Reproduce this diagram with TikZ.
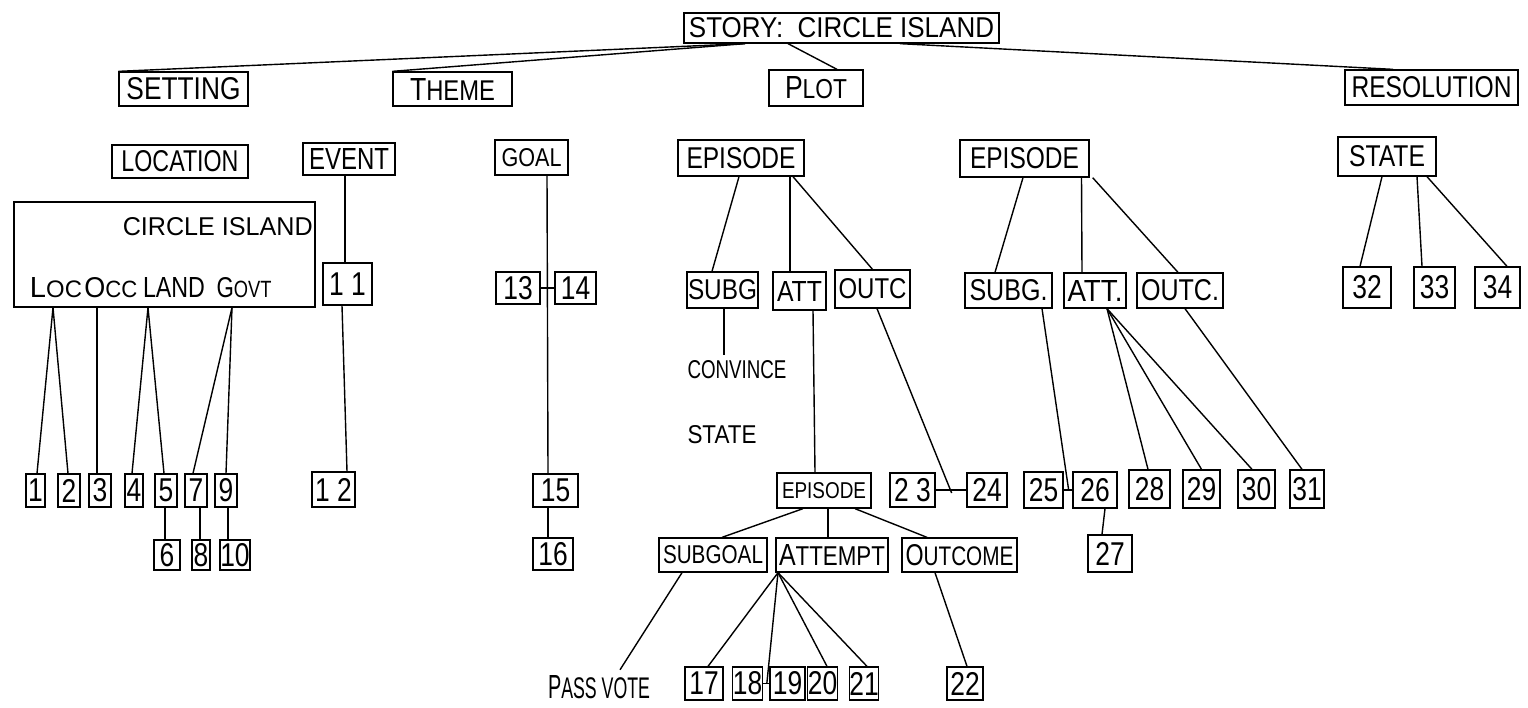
\documentclass[tikz,border=0pt]{standalone}
\usepackage{fontspec}
\setmainfont{Liberation Sans}
\usepackage{graphicx}
\newcommand\fs[1]{\fontsize{#1}{#1}\selectfont}
\newcommand\T[3]{\resizebox{#1pt}{#2pt}{#3}}
\newcommand\nm[1]{\scalebox{0.8}[1]{\fs{33}#1}}
\newcommand\B[7][]{\node[box,#1,minimum width={(#5-#3)*1pt},minimum height={(#6-#4)*1pt}] (#2) at ({(#3+#5)/2},{(#4+#6)/2}) {#7};}
\tikzset{
  box/.style={draw,line width=1.3pt,inner sep=0pt,font={\fs{24}}},
  ln/.style={line width=1.4pt},
  lbl/.style={inner sep=0pt,font={\fs{24}}}
}
\begin{document}
\begin{tikzpicture}[x=1pt,y=-1pt]
\fill[white] (0,0) rectangle (1528,707);
\useasboundingbox (0,0) rectangle (1528,707);

% top levels
\B{story}{684}{13}{999}{43}{\T{305}{20}{STORY:\ \ CIRCLE ISLAND}}
\B{setting}{119}{72}{248}{106}{\T{114}{22}{SETTING}}
\B{theme}{393}{72}{512}{106}{\T{85}{22}{{\fs{28}T}{\fs{25}HEME}}}
\B{plot}{769}{70}{863}{106}{\T{62}{22}{{\fs{28}P}{\fs{24}LOT}}}
\B{resolution}{1345}{70}{1518}{105}{\T{160}{21}{RESOLUTION}}

% second row
\B{location}{112}{145}{248}{178}{\T{117}{21}{LOCATION}}
\B{event}{303}{143}{395}{175}{\T{80}{21}{EVENT}}
\B{goal}{495}{140}{568}{175}{\T{60}{18}{GOAL}}
\B{ep1}{678}{140}{804}{176}{\T{109}{21}{EPISODE}}
\B{ep2}{960}{140}{1089}{177}{\T{109}{21}{EPISODE}}
\B{state}{1338}{137}{1436}{176}{\T{76}{21}{STATE}}

% circle island block
\B{island}{14}{202}{315}{307}{}
\node[lbl,anchor=base east] (islandname) at (313,235) {\T{190}{18}{CIRCLE ISLAND}};
\node[lbl,anchor=base] (loc) at (56,297) {\T{52}{20}{{\fs{28}L}{\fs{23}OC}}};
\node[lbl,anchor=base] (occ) at (111,297) {\T{53}{20}{{\fs{28}O}{\fs{23}CC}}};
\node[lbl,anchor=base] (land) at (174,297) {\T{62}{20}{LAND}};
\node[lbl,anchor=base] (govt) at (244,297) {\T{55}{20}{{\fs{28}G}{\fs{23}OVT}}};

\B{n1}{26}{474}{45}{507}{\nm{1}}
\B{n2}{58}{474}{80}{507}{\nm{2}}
\B{n3}{89}{474}{111}{507}{\nm{3}}
\B{n4}{125}{474}{143}{507}{\nm{4}}
\B{n5}{155}{474}{177}{507}{\nm{5}}
\B{n7}{185}{474}{207}{507}{\nm{7}}
\B{n9}{215}{474}{237}{507}{\nm{9}}
\B{n6}{154}{540}{180}{570}{\nm{6}}
\B{n8}{192}{540}{210}{570}{\nm{8}}
\B{n10}{220}{540}{250}{570}{\nm{10}}

\B{n11}{323}{263}{372}{305}{\nm{1 1}}
\B{n12}{312}{472}{355}{507}{\nm{1 2}}

\B{n13}{496}{272}{540}{304}{\nm{13}}
\B{n14}{555}{272}{596}{304}{\nm{14}}
\B{n15}{533}{474}{578}{507}{\nm{15}}
\B{n16}{533}{538}{573}{570}{\nm{16}}

% episode 1
\B{subg}{687}{272}{758}{308}{\T{69}{20}{SUBG}}
\B{att}{773}{272}{826}{310}{\T{45}{20}{ATT}}
\B{outc}{835}{270}{910}{308}{\T{68}{20}{OUTC}}
\node[lbl,anchor=base] (convince) at (737,378) {\T{99}{18}{CONVINCE}};
\node[lbl,anchor=base] (statelbl) at (722,443) {\T{69}{18}{STATE}};
\B{epsm}{777}{473}{871}{508}{\T{84}{16}{EPISODE}}
\B{n23}{890}{473}{935}{507}{\nm{2 3}}
\B{n24}{967}{473}{1007}{507}{\nm{24}}
\B{subgoal}{659}{538}{767}{572}{\T{100}{18}{SUBGOAL}}
\B{attempt}{776}{538}{888}{572}{\T{106}{21}{{\fs{28}A}{\fs{25}TTEMPT}}}
\B{outcome}{902}{538}{1017}{572}{\T{108}{21}{{\fs{28}O}{\fs{25}UTCOME}}}
\node[lbl,anchor=base] (passvote) at (599,698) {\T{102}{23}{{\fs{28}P}{\fs{25}ASS VOTE}}};
\B{n17}{685}{667}{723}{700}{\nm{17}}
\B{n18}{733}{667}{762}{700}{\nm{18}}
\B{n19}{770}{667}{805}{700}{\nm{19}}
\B{n20}{808}{667}{837}{700}{\nm{20}}
\B{n21}{850}{667}{878}{700}{\nm{21}}
\B{n22}{947}{667}{983}{700}{\nm{22}}

% episode 2
\B{subg2}{965}{273}{1052}{308}{\T{78}{21}{SUBG.}}
\B{att2}{1064}{273}{1126}{308}{\T{55}{21}{ATT.}}
\B{outc2}{1137}{273}{1223}{308}{\T{78}{21}{OUTC.}}
\B{n25}{1024}{472}{1063}{508}{\nm{25}}
\B{n26}{1073}{472}{1117}{508}{\nm{26}}
\B{n27}{1088}{535}{1132}{572}{\nm{27}}
\B{n28}{1129}{470}{1170}{508}{\nm{28}}
\B{n29}{1183}{470}{1220}{508}{\nm{29}}
\B{n30}{1238}{470}{1275}{508}{\nm{30}}
\B{n31}{1290}{470}{1324}{508}{\nm{31}}

% resolution
\B{n32}{1343}{267}{1391}{308}{\nm{32}}
\B{n33}{1414}{267}{1455}{308}{\nm{33}}
\B{n34}{1475}{267}{1520}{308}{\nm{34}}

% connectors
\draw[ln] ([xshift=-96.5pt]story.south) -- (setting.north west);
\draw[ln] ([xshift=-96.5pt]story.south) -- (theme.north west);
\draw[ln] ([xshift=-53.5pt]story.south) -- ([xshift=21pt]plot.north);
\draw[ln] ([xshift=58.5pt]story.south) -- ([xshift=-38.5pt]resolution.north);

\draw[ln] ([xshift=-4pt]event.south) -- ([xshift=-2.5pt]n11.north);
\draw[ln] ([xshift=-5.5pt]n11.south) -- ([xshift=13.5pt]n12.north);

\draw[ln] ([xshift=-111.5pt]island.south) -- ([xshift=1.5pt]n1.north);
\draw[ln] ([xshift=-111.5pt]island.south) -- ([xshift=-1pt]n2.north);
\draw[ln] ([xshift=-67.5pt]island.south) -- ([xshift=-3pt]n3.north);
\draw[ln] ([xshift=-16.5pt]island.south) -- ([xshift=-2pt]n4.north);
\draw[ln] ([xshift=-16.5pt]island.south) -- ([xshift=-2pt]n5.north);
\draw[ln] ([xshift=67.5pt]island.south) -- ([xshift=-3pt]n7.north);
\draw[ln] ([xshift=67.5pt]island.south) -- (n9.north);
\draw[ln] ([xshift=-1pt]n5.south) -- ([xshift=-2pt]n6.north);
\draw[ln] ([xshift=4pt]n7.south) -- ([xshift=-1pt]n8.north);
\draw[ln] ([xshift=2pt]n9.south) -- ([xshift=-7pt]n10.north);

\draw[ln] ([xshift=15.5pt]goal.south) -- ([xshift=-7.5pt]n15.north);
\draw[ln] (n13.east) -- (n14.west);
\draw[ln] ([xshift=-7.5pt]n15.south) -- ([xshift=-5pt]n16.north);

\draw[ln] ([xshift=-2pt]ep1.south) -- ([xshift=-10.5pt]subg.north);
\draw[ln] ([xshift=49pt]ep1.south) -- ([xshift=-9.5pt]att.north);
\draw[ln] ([xshift=52pt]ep1.south) -- (outc.north);
\draw[ln] ([xshift=1.5pt]subg.south) -- ([xshift=-13pt,yshift=5pt]convince.north);
\draw[ln] ([xshift=13.5pt]att.south) -- ([xshift=-9pt]epsm.north);
\draw[ln] (n23.east) -- (n24.west);
\draw[ln] ([xshift=4.5pt]outc.south) -- ([xshift=16pt,yshift=-3pt]n23.east);

\draw[ln] ([xshift=-21pt]epsm.south) -- ([xshift=9pt]subgoal.north);
\draw[ln] ([xshift=4pt]epsm.south) -- ([xshift=-4pt]attempt.north);
\draw[ln] ([xshift=31pt]epsm.south) -- ([xshift=-32.5pt]outcome.north);
\draw[ln] ([xshift=-31pt]subgoal.south) -- ([xshift=21pt,yshift=5pt]passvote.north);
\draw[ln] ([xshift=-54pt]attempt.south) -- ([xshift=4pt]n17.north);
\draw[ln] (n18.east) -- (n19.west);
\draw[ln] ([xshift=-54pt]attempt.south) -- ([xshift=4pt]n18.east);
\draw[ln] ([xshift=-54pt]attempt.south) -- ([xshift=4.5pt]n20.north);
\draw[ln] ([xshift=-54pt]attempt.south) -- ([xshift=3pt]n21.north);
\draw[ln] ([xshift=-24.5pt]outcome.south) -- ([xshift=2pt]n22.north);

\draw[ln] ([xshift=-1.5pt]ep2.south) -- ([xshift=-13.5pt]subg2.north);
\draw[ln] ([xshift=57pt]ep2.south) -- ([xshift=-13pt]att2.north);
\draw[ln] ([xshift=3pt]ep2.south east) -- ([xshift=-2pt]outc2.north);
\draw[ln] (n25.east) -- (n26.west);
\draw[ln] ([xshift=33.5pt]subg2.south) -- ([xshift=5pt]n25.east);
\draw[ln] ([xshift=10pt]n26.south) -- ([xshift=-8pt]n27.north);
\draw[ln] ([xshift=12pt]att2.south) -- ([xshift=-1.5pt]n28.north);
\draw[ln] ([xshift=12pt]att2.south) -- (n29.north);
\draw[ln] ([xshift=12pt]att2.south) -- ([xshift=-4.5pt]n30.north);
\draw[ln] ([xshift=5pt]outc2.south) -- ([xshift=-5pt]n31.north);

\draw[ln] ([xshift=-5pt]state.south) -- ([xshift=-7pt]n32.north);
\draw[ln] ([xshift=30pt]state.south) -- ([xshift=-12.5pt]n33.north);
\draw[ln] ([xshift=40pt]state.south) -- ([xshift=9.5pt]n34.north);
\end{tikzpicture}
\end{document}
